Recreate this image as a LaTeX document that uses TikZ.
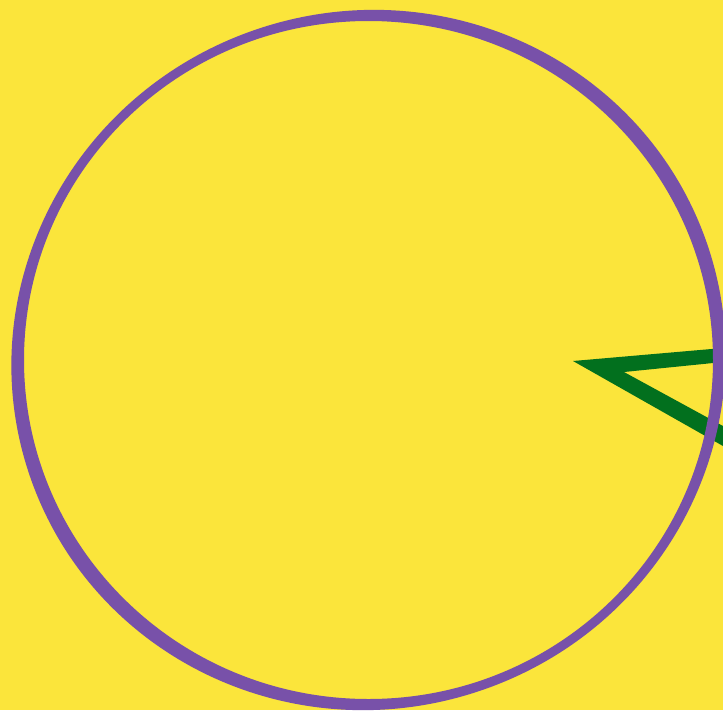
\documentclass[tikz,border=0pt]{standalone}
\definecolor{flagyellow}{HTML}{FBE53B}
\definecolor{flagpurple}{HTML}{7851A9}
\definecolor{flaggreen}{HTML}{02701E}
\begin{document}
\begin{tikzpicture}[x=1pt,y=-1pt,
  ring/.style={fill=flagpurple,even odd rule},
  wedge/.style={fill=flaggreen,draw=none}]
\useasboundingbox (0,0) rectangle (723,710);
\fill[flagyellow] (0,0) rectangle (723,710);
\coordinate (apex) at (573,361);
\coordinate (c) at (368.5,360);
\fill[wedge] (apex) -- (723,348) -- (723,362) -- (624,372) -- (723,426) -- (723,446) -- cycle;
\begin{scope}
\clip (0,0) rectangle (723,710);
\path[ring] (c) ellipse [x radius=358, y radius=349.1, rotate=19.1]
            (c) ellipse [x radius=344.5, y radius=339];
\end{scope}
\end{tikzpicture}
\end{document}
